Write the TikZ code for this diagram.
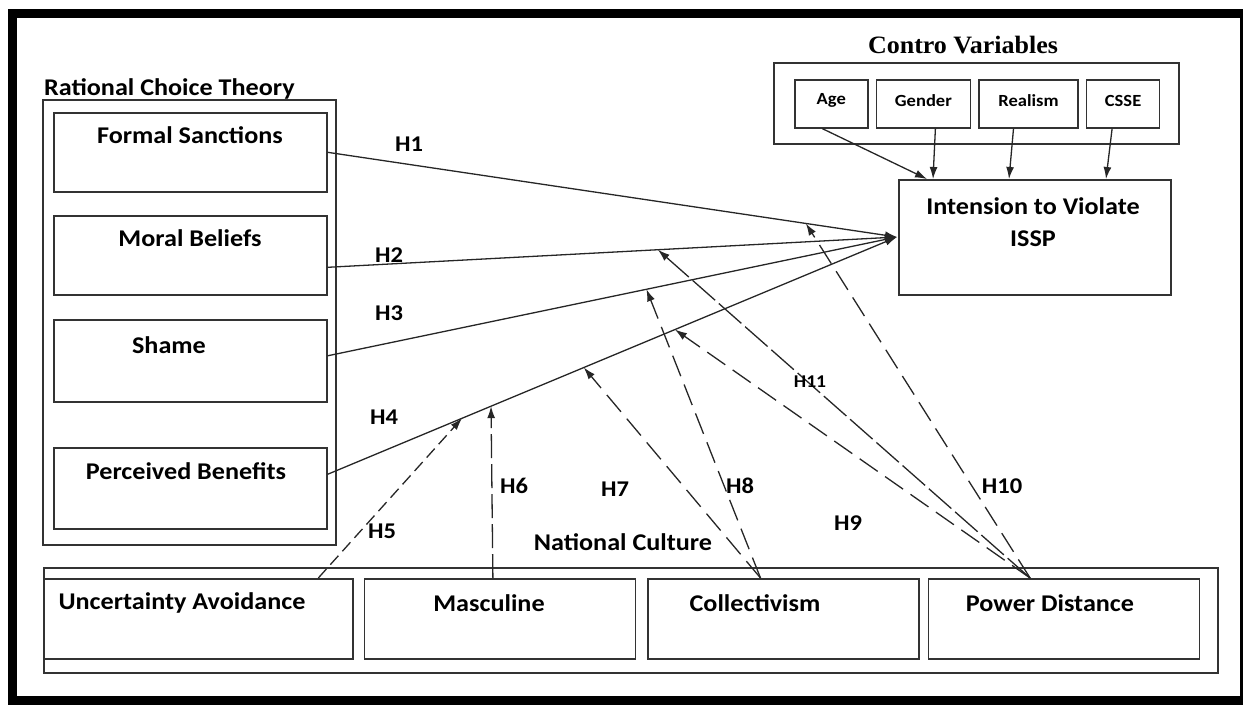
\documentclass[tikz,border=0pt]{standalone}
\usepackage{fontspec}
\setmainfont{Carlito}[FakeStretch=1.09]
\newfontfamily\titlefont{Liberation Serif}[FakeStretch=1.04]
\usetikzlibrary{arrows.meta}
\usetikzlibrary{calc}
\usetikzlibrary{positioning}

\begin{document}
\begin{tikzpicture}[
		x=1pt,
		y=-1pt,
		font=\fontsize{24pt}{28pt}\selectfont\bfseries,
		>={Latex[length=12,width=8]},
	]
		\tikzset{box/.style={
			draw=black!80,
			line width=1.6,
			rectangle,
			inner sep=0,
			anchor=north west,
		}}
		\tikzset{cvtext/.style={
			font=\fontsize{17pt}{20pt}\selectfont\bfseries,
		}}
		\tikzset{hyp/.style={
			font=\fontsize{22.5pt}{26pt}\selectfont\bfseries,
		}}
		\tikzset{effect/.style={
			->,
			line width=1.3,
			draw=black!85,
		}}
		\tikzset{moderator/.style={
			->,
			line width=1.3,
			draw=black!85,
			dash pattern=on 22 off 9,
		}}

		\useasboundingbox (0,0) rectangle (1243,705);
		\draw[line width=9] (12.5,13) rectangle (1244,700);

		%---------------------------------
		% Rational choice theory
		\node[box, minimum width=293, minimum height=445] (rct) at (42,99) {};
		\node[anchor=south west, inner sep=0] (rcttitle) at ([xshift=2,yshift=0]rct.north west) {Rational Choice Theory};

		\node[box, minimum width=273, minimum height=79] (formal) at (53,112) {};
		\node[box, minimum width=273, minimum height=79] (moral) at (53,215) {};
		\node[box, minimum width=273, minimum height=82] (shame) at (53,319) {};
		\node[box, minimum width=273, minimum height=81] (benefit) at (53,447) {};

		\node (formaltext) at (190,135) {Formal Sanctions};
		\node (moraltext) at (190,238) {Moral Beliefs};
		\node (shametext) at (169,345) {Shame};
		\node (benefittext) at (186,471) {Perceived Benefits};

		%---------------------------------
		% Control variables
		\node[box, minimum width=405, minimum height=81] (control) at (773,62) {};
		\node[font=\titlefont\fontsize{25pt}{27pt}\selectfont\bfseries] (controltitle) at (963,45) {Contro Variables};

		\node[box, minimum width=73, minimum height=48] (age) at (794,79) {};
		\node[box, minimum width=94, minimum height=48, right=7 of age.north east, anchor=north west] (gender) {};
		\node[box, minimum width=99, minimum height=48, right=7 of gender.north east, anchor=north west] (realism) {};
		\node[box, minimum width=73, minimum height=48, right=7 of realism.north east, anchor=north west] (csse) {};

		\node[cvtext] (agetext) at ([yshift=3]age.center) {Age};
		\node[cvtext] (gendertext) at ([yshift=3]gender.center) {Gender};
		\node[cvtext] (realismtext) at ([yshift=3]realism.center) {Realism};
		\node[cvtext] (cssetext) at ([yshift=3]csse.center) {CSSE};

		%---------------------------------
		% Outcome
		\node[box, minimum width=272, minimum height=115] (intent) at (898,179) {};
		\node[align=center, inner sep=0] (intenttext) at (1033,222) {Intension to Violate\\[4pt]ISSP};

		\draw[effect] ([xshift=-9]age.south) -- ([xshift=29]intent.north west);
		\draw[effect] ([xshift=12]gender.south) -- ([xshift=35]intent.north west);
		\draw[effect] ([xshift=-15]realism.south) -- ([xshift=111]intent.north west);
		\draw[effect] ([xshift=-11]csse.south) -- ([xshift=208]intent.north west);

		%---------------------------------
		% National culture
		\node[box, minimum width=1174, minimum height=105] (culture) at (43,567) {};
		\node (culturetitle) at (623,542) {National Culture};

		\node[box, minimum width=309, minimum height=80] (uncert) at (43,578) {};
		\node[box, minimum width=271, minimum height=80, right=10 of uncert.north east, anchor=north west] (masc) {};
		\node[box, minimum width=271, minimum height=80, right=11 of masc.north east, anchor=north west] (collect) {};
		\node[box, minimum width=271, minimum height=80, right=8 of collect.north east, anchor=north west] (power) {};

		\node (uncerttext) at (182,603) {Uncertainty Avoidance};
		\node (masctext) at (489,603) {Masculine};
		\node (collecttext) at (755,603) {Collectivism};
		\node (powertext) at (1050,603) {Power Distance};

		%---------------------------------
		% Direct effects
		\coordinate (target) at (897,237);
		\coordinate (fs) at (formal.east);
		\coordinate (mb) at ([yshift=-12]moral.east);
		\coordinate (sh) at ([yshift=5]shame.east);
		\coordinate (pb) at ([yshift=14]benefit.east);

		\draw[effect] (fs) -- (target);
		\draw[effect] (mb) -- (target);
		\draw[effect] (sh) -- (target);
		\draw[effect] (pb) -- (target);

		\node[hyp] (h1) at (409,144) {H1};
		\node[hyp] (h2) at (389,255) {H2};
		\node[hyp] (h3) at (389,313) {H3};
		\node[hyp] (h4) at (384,417) {H4};

		%---------------------------------
		% Moderators
		\coordinate (on5) at ($(pb)!0.236!(target)$);
		\coordinate (on6) at ($(pb)!0.287!(target)$);
		\coordinate (on7) at ($(pb)!0.45!(target)$);
		\coordinate (on9) at ($(pb)!0.61!(target)$);
		\coordinate (on8) at ($(sh)!0.56!(target)$);
		\coordinate (on11) at ($(mb)!0.58!(target)$);
		\coordinate (on10) at ($(fs)!0.84!(target)$);

		\draw[moderator, dash pattern=on 12 off 6] ([xshift=120]uncert.north) -- (on5);
		\draw[moderator, dash pattern=on 24 off 6] ([xshift=-7]masc.north) -- (on6);
		\draw[moderator] ([xshift=-23]collect.north) -- (on7);
		\draw[moderator] ([xshift=-23]collect.north) -- (on8);
		\draw[moderator] ([xshift=-34]power.north) -- (on9);
		\draw[moderator, dash pattern=on 30 off 5] ([xshift=-34]power.north) -- (on11);
		\draw[moderator] ([xshift=-34]power.north) -- (on10);

		\node[hyp] (h5) at (382,531) {H5};
		\node[hyp] (h6) at (514,486) {H6};
		\node[hyp] (h7) at (615,489) {H7};
		\node[hyp] (h8) at (740,486) {H8};
		\node[hyp] (h9) at (848,523) {H9};
		\node[hyp] (h10) at (1002,486) {H10};
		\node[hyp, font=\fontsize{18pt}{20pt}\selectfont\bfseries] (h11) at (810,382) {H11};
	\end{tikzpicture}
\end{document}
